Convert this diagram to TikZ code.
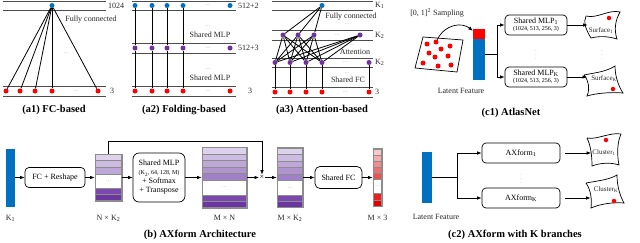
\documentclass[tikz,border=0pt]{standalone}
\usepackage{fontspec}
\setmainfont{Liberation Serif}
\usetikzlibrary{arrows.meta,positioning}
\definecolor{dblue}{HTML}{0070C0}
\definecolor{dpurple}{HTML}{7030A0}
\definecolor{dred}{HTML}{FF0000}
\definecolor{pA}{HTML}{DDD2EB}
\definecolor{pB}{HTML}{CDBCE1}
\definecolor{pC}{HTML}{BEA8D8}
\definecolor{pD}{HTML}{AF94CE}
\definecolor{pE}{HTML}{A080C6}
\definecolor{pF}{HTML}{7B49AD}
\definecolor{pG}{HTML}{6C36A2}
\definecolor{rA}{HTML}{F9CACA}
\definecolor{rB}{HTML}{F6ACAC}
\definecolor{rC}{HTML}{F38E8E}
\definecolor{rD}{HTML}{EF7070}
\definecolor{rE}{HTML}{EC5252}
\definecolor{rF}{HTML}{E82020}
\definecolor{rG}{HTML}{E30000}
\begin{document}
\begin{tikzpicture}[x=1pt,y=-1pt,font=\fontsize{8}{9}\selectfont,>=Latex,
 lay/.style={line width=.9pt,black!70},
 bdot/.style={circle,inner sep=0pt,minimum size=5pt,fill=dblue},
 pdot/.style={bdot,fill=dpurple},
 rdot/.style={bdot,fill=dred},
 ell/.style={inner sep=0pt,text=black!45,font=\fontsize{5}{5}\selectfont},
 lbl/.style={inner sep=1pt,text=black!85},
 box/.style={draw,rounded corners=4pt,align=center,line width=.7pt,inner sep=1pt},
 arr/.style={-{Latex[length=4.5pt,width=3.5pt]},line width=.7pt},
 stk/.style={draw=black!45,fill=black!45,line width=.8pt,inner sep=0pt},
 fbar/.style={fill=dblue,inner sep=0pt,minimum width=10pt},
 blob/.style={line width=.7pt},
 capt/.style={font=\bfseries\fontsize{10.5}{12}\selectfont}]
\useasboundingbox (0,0) rectangle (640,242);

% (a1)
\foreach \y in {1,10,86,96} \draw[lay] (3,\y) -- (106,\y);
\node[bdot] (a1t) at (52,5.5) {};
\foreach \i/\x in {1/6,2/20,3/35,4/52,5/98} \node[rdot] (a1r\i) at (\x,91) {};
\foreach \i in {1,...,5} \draw[line width=.8pt] (a1t) -- (a1r\i);
\node[lbl] (a1fc) at (91,20) {Fully connected};
\node[ell] (a1e1) at (66,53) {\dots};
\node[ell] (a1e2) at (76,91) {\dots};
\node[lbl,anchor=west] (a1l1) at (107,5.5) {1024};
\node[lbl] (a1l2) at (112,91) {3};
\node[capt] (a1cap) at (54,110) {(a1) FC-based};

% (a2)
\foreach \y in {1,10,43,53,86,96} \draw[lay] (132,\y) -- (236,\y);
\foreach \i/\x in {1/135,2/152,3/167,4/183,5/230} {
  \node[bdot] (a2b\i) at (\x,5.5) {};
  \node[pdot] (a2p\i) at (\x,48) {};
  \node[rdot] (a2r\i) at (\x,91) {};}
\foreach \i in {1,...,4} \draw[line width=.8pt] (a2b\i) -- (a2p\i) -- (a2r\i);
\foreach \i/\y in {1/5.5,2/48,3/91} \node[ell] (a2e\i) at (208,\y) {\dots};
\node[ell] (a2e4) at (208,26) {\dots};
\node[lbl] (a2m1) at (210,35) {Shared MLP};
\node[ell] (a2e5) at (208,69) {\dots};
\node[lbl] (a2m2) at (210,78) {Shared MLP};
\node[lbl,anchor=west] (a2l1) at (237,5.5) {512+2};
\node[lbl,anchor=west] (a2l2) at (237,48) {512+3};
\node[lbl] (a2l3) at (250,91) {3};
\node[capt] (a2cap) at (184,110) {(a2) Folding-based};

% (a3)
\foreach \y in {1,10,30,40,58,67,87,97} \draw[lay] (272,\y) -- (373,\y);
\node[bdot] (a3t) at (322,5.5) {};
\foreach \i/\x in {1/283,2/298,3/314,4/360} \node[pdot] (a3p\i) at (\x,35) {};
\foreach \i/\x in {1/275,2/290,3/306,4/322,5/369} {
  \node[pdot] (a3q\i) at (\x,62.5) {};
  \node[rdot] (a3r\i) at (\x,92) {};}
\foreach \i in {1,2,3} \draw[line width=.8pt] (a3t) -- (a3p\i);
\foreach \i in {1,...,4} \foreach \j in {1,...,4} \draw[line width=.8pt] (a3p\i) -- (a3q\j);
\foreach \i in {1,...,5} \draw[line width=.8pt] (a3q\i) -- (a3r\i);
\node[lbl] (a3fc) at (351,17) {Fully connected};
\node[ell] (a3e1) at (347,24) {\dots};
\node[ell] (a3e2) at (337,35) {\dots};
\node[ell] (a3e3) at (352,45) {\dots};
\node[lbl] (a3at) at (355,52) {Attention};
\node[ell] (a3e4) at (345,62.5) {\dots};
\node[ell] (a3e5) at (347,73) {\dots};
\node[lbl] (a3sf) at (348,80) {Shared FC};
\node[ell] (a3e6) at (345,92) {\dots};
\node[lbl,anchor=west] (a3l1) at (374,5.5) {K\textsubscript{1}};
\node[lbl,anchor=west] (a3l2) at (374,35) {K\textsubscript{2}};
\node[lbl,anchor=west] (a3l3) at (374,62.5) {K\textsubscript{2}};
\node[lbl,anchor=west] (a3l4) at (374,92) {3};
\node[capt] (a3cap) at (322,110) {(a3) Attention-based};

% (c1)
\node[lbl] (samp) at (437,13) {[0, 1]\textsuperscript{2} Sampling};
\draw[blob] (423,37) -- (463,40) -- (457,72) -- (415,68) -- cycle;
\foreach \i/\x/\y in {1/427/44,2/436/42,3/450/46,4/429/53,5/441/49,6/435/57,7/448/56,8/423/63,9/438/66,10/451/65}
  \node[rdot] (s\i) at (\x,\y) {};
\node[fbar,fill=dred,minimum width=12pt,minimum height=10pt] (latr) at (479,34) {};
\node[fbar,minimum width=12pt,minimum height=41pt] (latb) at (479,59.5) {};
\draw[arr] (s2) .. controls (445,24) and (462,22) .. ([yshift=-2pt]latr.north west);
\node[lbl] (latl) at (461,91) {Latent Feature};
\coordinate (c1j) at (497,54);
\draw[line width=.7pt] (latb.east |- c1j) -- (c1j);
\node[box,minimum width=62pt,minimum height=20pt] (mlp1) at (536,25) {Shared MLP\textsubscript{1}\\[-1.5pt]{\fontsize{6}{6.5}\selectfont (1024, 513, 256, 3)}};
\node[box,minimum width=62pt,minimum height=20pt] (mlpk) at (536,77) {Shared MLP\textsubscript{K}\\[-1.5pt]{\fontsize{6}{6.5}\selectfont (1024, 513, 256, 3)}};
\draw[arr] (c1j) |- (mlp1);
\draw[arr] (c1j) |- (mlpk);
\node[ell] (c1v1) at (536,52) {$\vdots$};
\node[lbl,font=\fontsize{7}{8}\selectfont] (surf1) at (601,31) {Surface\textsubscript{1}};
\draw[blob] (586,16) .. controls (597,19) and (609,9) .. (620,12) .. controls (615,21) and (614,30) .. (617,39) .. controls (607,36) and (599,36) .. (591,38) .. controls (586,30) and (583,22) .. (586,16);
\node[rdot,minimum size=4.5pt] (sf1) at (609,18) {};
\node[lbl,font=\fontsize{7}{8}\selectfont] (surfk) at (604,79) {Surface\textsubscript{K}};
\draw[blob] (584,75) .. controls (593,73) and (606,72) .. (615,66) .. controls (615,77) and (619,87) .. (623,93) .. controls (611,92) and (597,93) .. (587,96) .. controls (590,89) and (589,81) .. (584,75);
\node[rdot,minimum size=4.5pt] (sfk) at (613,89) {};
\node[ell] (c1v2) at (602,52) {$\vdots$};
\draw[arr] (mlp1.east) -- (mlp1.east -| surf1.west);
\draw[arr,shorten >=3pt] (mlpk.east) -- (mlpk.east -| surfk.west);
\node[capt] (c1cap) at (511,113) {(c1) AtlasNet};

% (b)
\node[fbar,minimum width=9pt,minimum height=58pt] (k1) at (10.5,177.5) {};
\node[lbl] (k1l) at (10.5,218) {K\textsubscript{1}};
\node[box,minimum width=60pt,minimum height=20pt] (rsh) at (55,177.5) {FC + Reshape};
\node[stk,minimum width=27pt,minimum height=47pt] (nk) at (108.5,177.5) {};
\foreach \ya/\yb/\c in {155/160/pA,161/167/pB,168/173.5/pC,174.5/187.5/white,188.5/194/pF,195/200/pG}
  \fill[\c] (96,\ya) rectangle (121,\yb);
\node[ell] (nke) at (108.5,181) {\dots};
\node[lbl] (nkl) at (108.5,218) {N × K\textsubscript{2}};
\node[box,minimum width=52pt,minimum height=49pt,rounded corners=6pt] (smlp) at (159,177.5) {Shared MLP\\{\fontsize{6}{6.5}\selectfont (K\textsubscript{2}, 64, 128, M)}\\+ Softmax\\+ Transpose};
\node[stk,minimum width=45pt,minimum height=61pt] (mn) at (224.5,177.5) {};
\foreach \ya/\yb/\c in {148/153.5/pA,154.5/160/pB,161/166.5/pC,167.5/173/pD,174/179.5/pE,180.5/194.5/white,195.5/201/pF,202/207/pG}
  \fill[\c] (203,\ya) rectangle (246,\yb);
\node[ell] (mne) at (224.5,187.5) {\dots};
\node[lbl] (mnl) at (224.5,218) {M × N};
\node[inner sep=.5pt] (tm) at (262,177.5) {×};
\node[stk,minimum width=26pt,minimum height=60pt] (mk) at (290,177.5) {};
\foreach \ya/\yb/\c in {148.5/154/pA,155/160.5/pB,161.5/167/pC,168/173.5/pD,174.5/180/pE,181/194.5/white,195.5/201/pF,202/206.5/pG}
  \fill[\c] (278,\ya) rectangle (302,\yb);
\node[ell] (mke) at (290,188) {\dots};
\node[lbl] (mkl) at (290,218) {M × K\textsubscript{2}};
\node[box,minimum width=47pt,minimum height=22pt,rounded corners=5pt] (sfc) at (338.5,177.5) {Shared FC};
\node[stk,minimum width=9pt,minimum height=58pt] (m3) at (377.5,177.5) {};
\foreach \ya/\yb/\c in {149.5/154.5/rA,155.5/160.5/rB,161.5/166.5/rC,167.5/172.5/rD,173.5/178.5/rE,179.5/192.5/white,193.5/199.5/rF,200.5/205.5/rG}
  \fill[\c] (374,\ya) rectangle (381,\yb);
\node[ell] (m3e) at (377.5,186) {\dots};
\node[lbl] (m3l) at (377.5,218) {M × 3};
\coordinate (skip) at (262,141);
\draw[arr] (nk.north) |- (skip) -- (tm);
\foreach \a/\b in {k1/rsh,rsh/nk,nk/smlp,smlp/mn,mn/tm,tm/mk,mk/sfc,sfc/m3} \draw[arr] (\a) -- (\b);
\node[capt] (bcap) at (200,235) {(b) AXform Architecture};

% (c2)
\node[fbar,minimum height=51pt] (lat2) at (427,177.5) {};
\node[lbl] (lat2l) at (436,217) {Latent Feature};
\coordinate (c2j) at (457,177.5);
\draw[line width=.7pt] (lat2) -- (c2j);
\node[box,minimum width=78pt,minimum height=20pt] (ax1) at (521,153) {AXform\textsubscript{1}};
\node[box,minimum width=78pt,minimum height=20pt] (axk) at (521,198) {AXform\textsubscript{K}};
\draw[arr] (c2j) |- (ax1);
\draw[arr] (c2j) |- (axk);
\node[ell] (c2v1) at (521,176) {$\vdots$};
\node[lbl,font=\fontsize{7}{8}\selectfont] (cl1) at (604,153) {Cluster\textsubscript{1}};
\draw[blob] (587,138) .. controls (597,140) and (610,132) .. (621,134) .. controls (617,143) and (617,155) .. (619,165) .. controls (610,162) and (600,163) .. (592,166) .. controls (592,157) and (591,146) .. (587,138);
\node[rdot,minimum size=4.5pt] (cd1) at (606,140) {};
\node[lbl,font=\fontsize{7}{8}\selectfont] (clk) at (606,190) {Cluster\textsubscript{K}};
\draw[blob] (586,183) .. controls (596,181) and (609,180) .. (617,175) .. controls (617,186) and (620,196) .. (624,203) .. controls (613,202) and (600,204) .. (591,208) .. controls (592,200) and (591,190) .. (586,183);
\node[rdot,minimum size=4.5pt] (cdk) at (614,201) {};
\node[ell] (c2v2) at (607,175) {$\vdots$};
\draw[arr,shorten <=5pt] (ax1.east) -- (ax1.east -| cl1.west);
\draw[arr,shorten <=5pt,shorten >=2pt] (axk.east) -- (axk.east -| clk.west);
\node[capt] (c2cap) at (515,235) {(c2) AXform with K branches};
\end{tikzpicture}
\end{document}
